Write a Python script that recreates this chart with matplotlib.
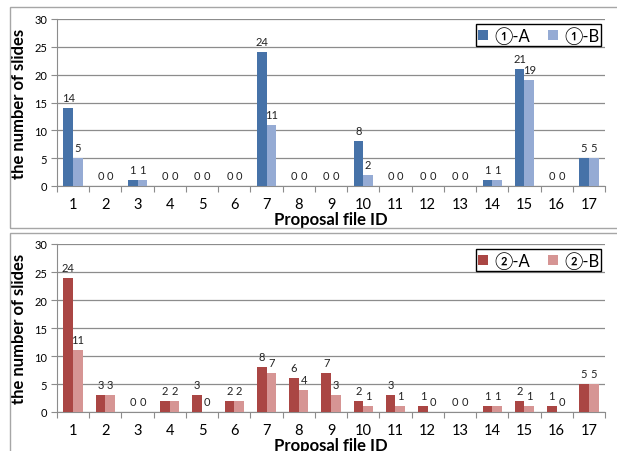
import matplotlib.pyplot as plt
from matplotlib.patches import Rectangle
from matplotlib.ticker import MultipleLocator, FixedLocator, NullFormatter

plt.rcParams['font.family'] = ['Lato', 'DejaVu Sans', 'Noto Sans CJK JP']

file_ids = [str(i) for i in range(1, 18)]

# panel 1
top_a = [14, 0, 1, 0, 0, 0, 24, 0, 0, 8, 0, 0, 0, 1, 21, 0, 5]
top_b = [5, 0, 1, 0, 0, 0, 11, 0, 0, 2, 0, 0, 0, 1, 19, 0, 5]
top_labels = ['\u2460-A', '\u2460-B']

# panel 2
bot_a = [24, 3, 0, 2, 3, 2, 8, 6, 7, 2, 3, 1, 0, 1, 2, 1, 5]
bot_b = [11, 3, 0, 2, 0, 2, 7, 4, 3, 1, 1, 0, 0, 1, 1, 0, 5]
bot_labels = ['\u2461-A', '\u2461-B']

W, H = 617, 452
fig = plt.figure(figsize=(W / 100, H / 100), dpi=100)

# panel frames
fig.add_artist(Rectangle((10 / W, 1 - 229 / H), 1.0, 221 / H, transform=fig.transFigure,
                         fill=False, edgecolor='#a6a6a6', linewidth=1.0))
fig.add_artist(Rectangle((10 / W, -0.05), 1.0, 1 - 234 / H + 0.05, transform=fig.transFigure,
                         fill=False, edgecolor='#a6a6a6', linewidth=1.0))

grid_c = '#8c8c8c'


def panel(rect, a, b, labels, col_a, col_b):
    ax = fig.add_axes(rect)
    x = list(range(len(file_ids)))
    bw = 0.3
    xa = [i - bw / 2 for i in x]
    xb = [i + bw / 2 for i in x]
    ax.bar(xa, a, width=bw, color=col_a, label=labels[0], zorder=3)
    ax.bar(xb, b, width=bw, color=col_b, label=labels[1], zorder=3)
    for xi, v in zip(xa, a):
        ax.text(xi, v + 0.9, str(v), ha='center', va='bottom', fontsize=8, color='#222222')
    for xi, v in zip(xb, b):
        ax.text(xi, v + 0.9, str(v), ha='center', va='bottom', fontsize=8, color='#222222')

    ax.set_xlim(-0.5, len(x) - 0.5)
    ax.set_ylim(0, 30)
    ax.yaxis.set_major_locator(MultipleLocator(5))
    ax.grid(axis='y', color=grid_c, linewidth=0.9, zorder=0)
    ax.set_axisbelow(True)

    ax.xaxis.set_major_locator(FixedLocator([i - 0.5 for i in range(len(x) + 1)]))
    ax.xaxis.set_major_formatter(NullFormatter())
    ax.xaxis.set_minor_locator(FixedLocator(x))
    ax.set_xticklabels(file_ids, minor=True)
    ax.tick_params(axis='x', which='major', length=4, color=grid_c, direction='out')
    ax.tick_params(axis='x', which='minor', length=0, labelsize=10.5, pad=8)
    ax.tick_params(axis='y', length=4, color=grid_c, labelsize=8, pad=3)

    for s in ['top', 'right']:
        ax.spines[s].set_visible(False)
    for s in ['left', 'bottom']:
        ax.spines[s].set_color(grid_c)

    ax.set_xlabel('Proposal file ID', fontsize=12, fontweight='bold')
    ax.xaxis.set_label_coords(0.5, -0.148)
    ax.set_ylabel('the number of slides', fontsize=12, fontweight='bold')
    ax.yaxis.set_label_coords(-0.055, 0.5)

    leg = ax.legend(loc='upper right', bbox_to_anchor=(0.993, 0.97), ncol=2, fontsize=12,
                    fancybox=False, edgecolor='black', framealpha=1, handlelength=0.6,
                    handleheight=0.6, handletextpad=0.35, columnspacing=1.1,
                    borderpad=0.12, borderaxespad=0)
    leg.get_frame().set_linewidth(1.0)
    return ax


panel([57 / W, 1 - 187 / H, 548 / W, 167 / H], top_a, top_b, top_labels, '#4672a8', '#95abd4')
panel([57 / W, 1 - 413 / H, 548 / W, 168 / H], bot_a, bot_b, bot_labels, '#aa4644', '#d69594')

fig.savefig('out.png', dpi=100)
